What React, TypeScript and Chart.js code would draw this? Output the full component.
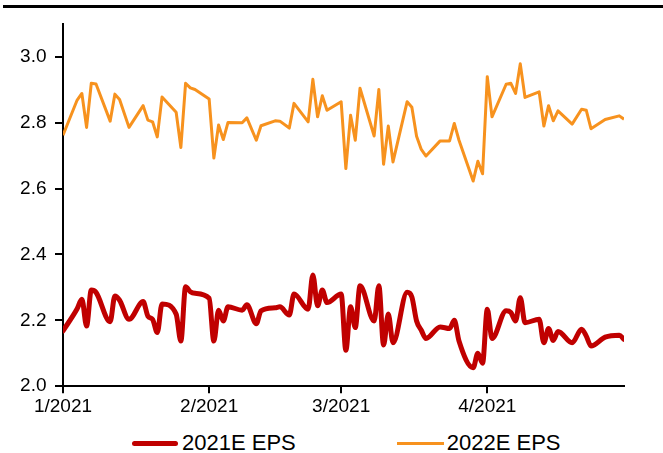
import React, { useEffect, useRef } from "react";
import { Chart, registerables } from "chart.js";

Chart.register(...registerables);

// Day offsets from 1 Jan 2021 (trading days shown in the chart)
const days = [
  0, 3, 4, 5, 6, 7, 10, 11, 12, 14, 17, 18, 19, 20, 21, 24, 25, 26, 27, 28,
  31, 32, 33, 34, 35, 38, 39, 41, 42, 45, 46, 48, 49, 52, 53, 54, 55, 56,
  59, 60, 61, 62, 63, 66, 67, 68, 69, 70, 73, 74, 75, 76, 77, 80, 82, 83, 84,
  87, 88, 89, 90, 91, 94, 95, 96, 97, 98, 101, 102, 103, 104, 105, 108, 110,
  111, 112, 115, 118, 119,
];

const eps2021 = [
  2.168, 2.235, 2.264, 2.183, 2.292, 2.285, 2.196, 2.274, 2.261, 2.203, 2.257,
  2.213, 2.203, 2.163, 2.25, 2.219, 2.137, 2.302, 2.287, 2.282,
  2.267, 2.137, 2.231, 2.198, 2.241, 2.231, 2.247, 2.19, 2.229, 2.238, 2.241,
  2.216, 2.28, 2.234, 2.338, 2.244, 2.292, 2.254,
  2.28, 2.109, 2.241, 2.178, 2.305, 2.198, 2.305, 2.125, 2.219, 2.132, 2.285,
  2.271, 2.198, 2.17, 2.145, 2.18, 2.175, 2.2, 2.137,
  2.056, 2.1, 2.07, 2.234, 2.145, 2.229, 2.224, 2.198, 2.269, 2.193, 2.203,
  2.132, 2.175, 2.139, 2.166, 2.132, 2.173, 2.152, 2.122, 2.149, 2.155, 2.142,
];

const eps2022 = [
  2.762, 2.869, 2.889, 2.786, 2.92, 2.918, 2.805, 2.887, 2.871, 2.786, 2.852,
  2.808, 2.803, 2.757, 2.878, 2.832, 2.725, 2.92, 2.906, 2.901,
  2.872, 2.693, 2.793, 2.749, 2.801, 2.8, 2.815, 2.747, 2.791, 2.806, 2.805,
  2.784, 2.859, 2.803, 2.932, 2.818, 2.882, 2.838,
  2.864, 2.661, 2.823, 2.747, 2.905, 2.76, 2.901, 2.674, 2.79, 2.681, 2.864,
  2.847, 2.759, 2.719, 2.699, 2.745, 2.745, 2.798, 2.747,
  2.623, 2.683, 2.645, 2.94, 2.818, 2.917, 2.92, 2.889, 2.979, 2.877, 2.894,
  2.79, 2.852, 2.806, 2.836, 2.796, 2.841, 2.838, 2.782, 2.81, 2.821, 2.811,
];

const xTickDays = [0, 31, 59, 90];
const xTickLabels = ["1/2021", "2/2021", "3/2021", "4/2021"];
const yTickValues = [2.0, 2.2, 2.4, 2.6, 2.8, 3.0];

const seriesNames = ["2021E EPS", "2022E EPS"];
const RED = "#C00000";
const ORANGE = "#F7921E";
const FONT = "'Liberation Sans', Arial, sans-serif";

export default function App() {
  const ref = useRef<HTMLCanvasElement>(null);

  useEffect(() => {
    if (!ref.current) return;
    const tickFont = { family: FONT, size: 19 };
    const chart = new Chart(ref.current, {
      type: "line",
      data: {
        datasets: [
          {
            label: seriesNames[0],
            data: days.map((d, i) => ({ x: d, y: eps2021[i] })),
            borderColor: RED,
            backgroundColor: RED,
            borderWidth: 5,
            pointRadius: 0,
            cubicInterpolationMode: "monotone",
            borderJoinStyle: "round",
            borderCapStyle: "round",
            fill: false,
          },
          {
            label: seriesNames[1],
            data: days.map((d, i) => ({ x: d, y: eps2022[i] })),
            borderColor: ORANGE,
            backgroundColor: ORANGE,
            borderWidth: 3,
            pointRadius: 0,
            tension: 0,
            borderJoinStyle: "round",
            fill: false,
          },
        ],
      },
      options: {
        responsive: false,
        animation: false,
        layout: { padding: { left: 11.6, right: 39, top: 24, bottom: 5 } },
        plugins: {
          legend: { display: false },
          tooltip: { enabled: false },
        },
        scales: {
          x: {
            type: "linear",
            min: 0,
            max: 119,
            afterBuildTicks: (s: any) => {
              s.ticks = xTickDays.map((v) => ({ value: v }));
            },
            ticks: {
              autoSkip: false,
              maxRotation: 0,
              padding: 2,
              color: "#000",
              font: tickFont,
              callback: (v: any) => {
                const i = xTickDays.indexOf(Number(v));
                return i >= 0 ? xTickLabels[i] : "";
              },
            },
            grid: {
              drawOnChartArea: false,
              drawTicks: true,
              tickLength: 7,
              color: "#000",
              lineWidth: 2,
            },
            border: { display: true, color: "#000", width: 2 },
          },
          y: {
            type: "linear",
            min: 2.0,
            max: 3.1,
            afterBuildTicks: (s: any) => {
              s.ticks = yTickValues.map((v) => ({ value: v }));
            },
            ticks: {
              padding: 8.5,
              color: "#000",
              font: tickFont,
              callback: (v: any) => Number(v).toFixed(1),
            },
            grid: {
              drawOnChartArea: false,
              drawTicks: true,
              tickLength: 8,
              color: "#000",
              lineWidth: 2,
            },
            border: { display: true, color: "#000", width: 2 },
          },
        },
      },
    } as any);
    return () => chart.destroy();
  }, []);

  const legendText: React.CSSProperties = {
    fontFamily: FONT,
    fontSize: 22,
    color: "#000",
    lineHeight: "22px",
    whiteSpace: "nowrap",
  };

  return (
    <div
      style={{
        position: "absolute",
        left: 0,
        top: 0,
        width: 663,
        height: 453,
        background: "#fff",
        overflow: "hidden",
      }}
    >
      <div
        style={{
          position: "absolute",
          left: 3,
          right: 0,
          top: 5,
          height: 3,
          background: "#000",
        }}
      />
      <canvas
        ref={ref}
        width={663}
        height={425}
        style={{ position: "absolute", left: 0, top: 0, display: "block" }}
      />
      <div
        style={{
          position: "absolute",
          left: 132,
          top: 431,
          height: 24,
          display: "flex",
          alignItems: "center",
        }}
      >
        <span
          style={{
            display: "inline-block",
            width: 46,
            height: 5,
            borderRadius: 2.5,
            background: RED,
            marginRight: 4,
          }}
        />
        <span style={legendText}>{seriesNames[0]}</span>
        <span
          style={{
            display: "inline-block",
            width: 47,
            height: 3,
            background: ORANGE,
            marginLeft: 101,
            marginRight: 3,
          }}
        />
        <span style={legendText}>{seriesNames[1]}</span>
      </div>
    </div>
  );
}
